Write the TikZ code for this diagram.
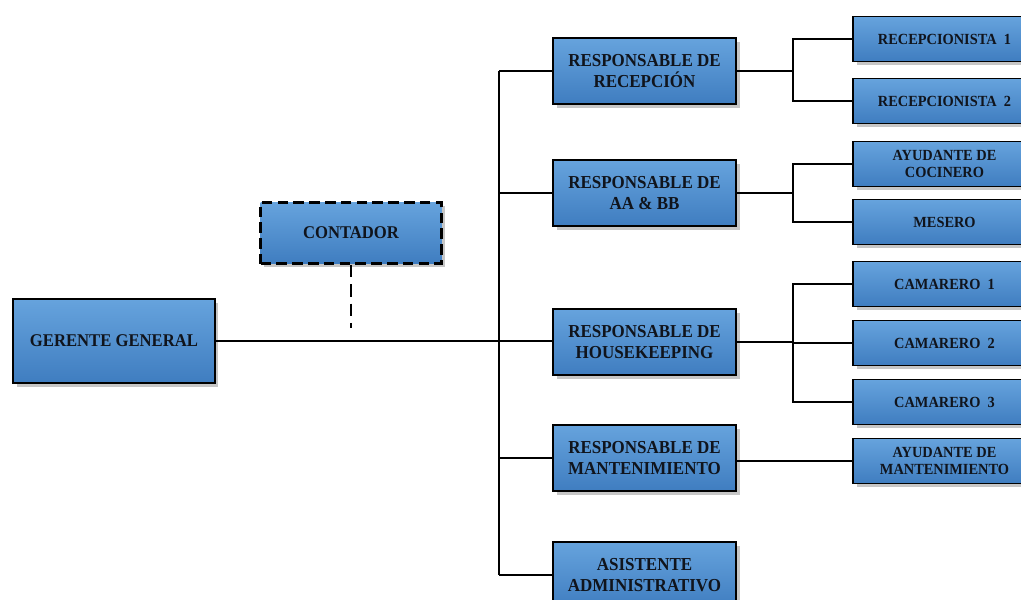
\documentclass[tikz,border=0pt]{standalone}
\usepackage{fontspec}
\setmainfont{Liberation Serif}[FakeStretch=0.93]
\usetikzlibrary{shadows}
\definecolor{boxtop}{HTML}{66A3DD}
\definecolor{boxbot}{HTML}{3F7DC0}
\definecolor{inktext}{HTML}{10141C}
\tikzset{
  unit/.style={draw=black, line width=1.1pt, top color=boxtop, bottom color=boxbot,
    text=inktext, font=\bfseries, align=center, inner sep=1pt,
    drop shadow={shadow xshift=2pt, shadow yshift=-2pt, opacity=0.45, fill=gray}},
  bigbox/.style={unit, minimum width=4.04cm, minimum height=1.68cm,
    font=\bfseries\fontsize{10.2}{12}\selectfont},
  midbox/.style={unit, minimum width=3.66cm, minimum height=1.32cm,
    font=\bfseries\fontsize{10.4}{11.6}\selectfont},
  smallbox/.style={unit, minimum width=3.66cm, minimum height=0.9cm,
    font=\bfseries\fontsize{8.8}{9.4}\selectfont},
  dashedbox/.style={line width=1.7pt, dash pattern=on 6pt off 3pt},
  link/.style={line width=1.1pt}
}
\begin{document}
\begin{tikzpicture}[x=0.02cm, y=-0.02cm]
  \useasboundingbox (0,0) rectangle (1021,599);
  \clip (0,0) rectangle (1021,599);

  % top of the chart
  \node[bigbox] (ger) at (114,341) {GERENTE GENERAL};
  \node[bigbox, dashedbox, minimum width=3.62cm, minimum height=1.22cm] (cont) at (351,233) {CONTADOR};
  \coordinate (contend) at (351,328);

  % heads of area
  \node[midbox] (rec) at (644.5,71) {RESPONSABLE DE\\RECEPCIÓN};
  \node[midbox] (aab) at (644.5,193) {RESPONSABLE DE\\AA \& BB};
  \node[midbox] (hk)  at (644.5,342) {RESPONSABLE DE\\HOUSEKEEPING};
  \node[midbox] (man) at (644.5,458) {RESPONSABLE DE\\MANTENIMIENTO};
  \node[midbox] (asi) at (644.5,575) {ASISTENTE\\ADMINISTRATIVO};

  % staff
  \node[smallbox] (r1) at (944.5,39)  {RECEPCIONISTA\ \ 1};
  \node[smallbox] (r2) at (944.5,101) {RECEPCIONISTA\ \ 2};
  \node[smallbox] (ac) at (944.5,164) {AYUDANTE DE\\COCINERO};
  \node[smallbox] (me) at (944.5,222) {MESERO};
  \node[smallbox] (c1) at (944.5,284) {CAMARERO\ \ 1};
  \node[smallbox] (c2) at (944.5,343) {CAMARERO\ \ 2};
  \node[smallbox] (c3) at (944.5,402) {CAMARERO\ \ 3};
  \node[smallbox] (am) at (944.5,461) {AYUDANTE DE\\MANTENIMIENTO};

  % trunk and branch columns
  \coordinate (trunk) at (499,0);
  \coordinate (jx) at (793,0);

  \draw[link] (ger.east) -- (ger.east -| hk.west);
  \draw[link, line width=1.7pt, dash pattern=on 7pt off 4pt] (cont.south) -- (contend);
  \draw[link] (rec.west -| trunk) -- (asi.west -| trunk);
  \draw[link] (rec.west) -- (rec.west -| trunk);
  \draw[link] (aab.west) -- (aab.west -| trunk);
  \draw[link] (man.west) -- (man.west -| trunk);
  \draw[link] (asi.west) -- (asi.west -| trunk);

  \draw[link] (rec.east) -- (rec.east -| jx);
  \draw[link] (r1.west) -- (r1.west -| jx) -- (r2.west -| jx) -- (r2.west);
  \draw[link] (aab.east) -- (aab.east -| jx);
  \draw[link] (ac.west) -- (ac.west -| jx) -- (me.west -| jx) -- (me.west);
  \draw[link] (hk.east) -- (hk.east -| jx);
  \draw[link] (c1.west) -- (c1.west -| jx) -- (c3.west -| jx) -- (c3.west);
  \draw[link] (c2.west) -- (c2.west -| jx);
  \draw[link] (am.west -| man.east) -- (am.west);
\end{tikzpicture}
\end{document}
